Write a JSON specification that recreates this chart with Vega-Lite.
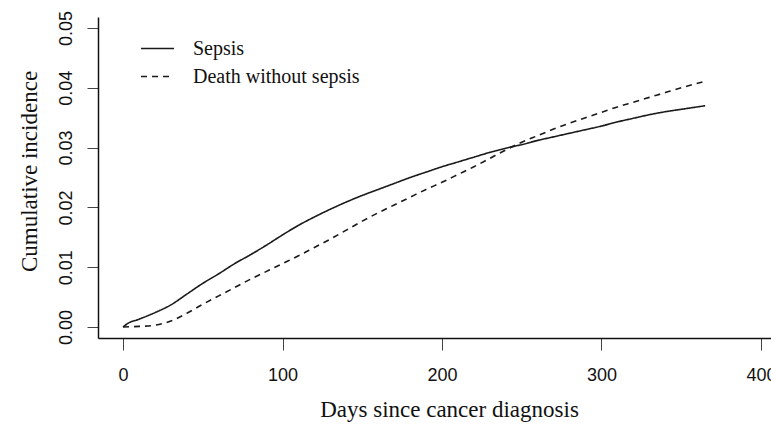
{
  "$schema": "https://vega.github.io/schema/vega-lite/v6.json",
  "autosize": {"type": "none"},
  "padding": {"left": 98, "top": 17, "right": 0, "bottom": 93},
  "width": 673,
  "height": 321,
  "background": "white",
  "config": {"view": {"stroke": null}},
  "data": {"values": [
    {"day": 0, "ci": 0.0, "event": "Sepsis"},
    {"day": 3, "ci": 0.0006, "event": "Sepsis"},
    {"day": 10, "ci": 0.0013, "event": "Sepsis"},
    {"day": 20, "ci": 0.0024, "event": "Sepsis"},
    {"day": 30, "ci": 0.0037, "event": "Sepsis"},
    {"day": 40, "ci": 0.0055, "event": "Sepsis"},
    {"day": 50, "ci": 0.0073, "event": "Sepsis"},
    {"day": 60, "ci": 0.0089, "event": "Sepsis"},
    {"day": 70, "ci": 0.0106, "event": "Sepsis"},
    {"day": 80, "ci": 0.0121, "event": "Sepsis"},
    {"day": 90, "ci": 0.0137, "event": "Sepsis"},
    {"day": 100, "ci": 0.0154, "event": "Sepsis"},
    {"day": 110, "ci": 0.0170, "event": "Sepsis"},
    {"day": 120, "ci": 0.0184, "event": "Sepsis"},
    {"day": 130, "ci": 0.0197, "event": "Sepsis"},
    {"day": 140, "ci": 0.0209, "event": "Sepsis"},
    {"day": 150, "ci": 0.0220, "event": "Sepsis"},
    {"day": 160, "ci": 0.0230, "event": "Sepsis"},
    {"day": 170, "ci": 0.0240, "event": "Sepsis"},
    {"day": 180, "ci": 0.0250, "event": "Sepsis"},
    {"day": 190, "ci": 0.0259, "event": "Sepsis"},
    {"day": 200, "ci": 0.0268, "event": "Sepsis"},
    {"day": 210, "ci": 0.0276, "event": "Sepsis"},
    {"day": 220, "ci": 0.0284, "event": "Sepsis"},
    {"day": 230, "ci": 0.0292, "event": "Sepsis"},
    {"day": 240, "ci": 0.0299, "event": "Sepsis"},
    {"day": 250, "ci": 0.0305, "event": "Sepsis"},
    {"day": 260, "ci": 0.0312, "event": "Sepsis"},
    {"day": 270, "ci": 0.0318, "event": "Sepsis"},
    {"day": 280, "ci": 0.0324, "event": "Sepsis"},
    {"day": 290, "ci": 0.0330, "event": "Sepsis"},
    {"day": 300, "ci": 0.0336, "event": "Sepsis"},
    {"day": 310, "ci": 0.0343, "event": "Sepsis"},
    {"day": 320, "ci": 0.0349, "event": "Sepsis"},
    {"day": 330, "ci": 0.0355, "event": "Sepsis"},
    {"day": 340, "ci": 0.0360, "event": "Sepsis"},
    {"day": 350, "ci": 0.0364, "event": "Sepsis"},
    {"day": 365, "ci": 0.0370, "event": "Sepsis"},
    {"day": 0, "ci": 0.0, "event": "Death without sepsis"},
    {"day": 10, "ci": 0.0001, "event": "Death without sepsis"},
    {"day": 20, "ci": 0.0003, "event": "Death without sepsis"},
    {"day": 30, "ci": 0.0010, "event": "Death without sepsis"},
    {"day": 40, "ci": 0.0023, "event": "Death without sepsis"},
    {"day": 50, "ci": 0.0038, "event": "Death without sepsis"},
    {"day": 60, "ci": 0.0052, "event": "Death without sepsis"},
    {"day": 70, "ci": 0.0066, "event": "Death without sepsis"},
    {"day": 80, "ci": 0.0080, "event": "Death without sepsis"},
    {"day": 90, "ci": 0.0093, "event": "Death without sepsis"},
    {"day": 100, "ci": 0.0106, "event": "Death without sepsis"},
    {"day": 110, "ci": 0.0119, "event": "Death without sepsis"},
    {"day": 120, "ci": 0.0133, "event": "Death without sepsis"},
    {"day": 130, "ci": 0.0147, "event": "Death without sepsis"},
    {"day": 140, "ci": 0.0162, "event": "Death without sepsis"},
    {"day": 150, "ci": 0.0177, "event": "Death without sepsis"},
    {"day": 160, "ci": 0.0191, "event": "Death without sepsis"},
    {"day": 170, "ci": 0.0204, "event": "Death without sepsis"},
    {"day": 180, "ci": 0.0217, "event": "Death without sepsis"},
    {"day": 190, "ci": 0.0230, "event": "Death without sepsis"},
    {"day": 200, "ci": 0.0242, "event": "Death without sepsis"},
    {"day": 210, "ci": 0.0255, "event": "Death without sepsis"},
    {"day": 220, "ci": 0.0268, "event": "Death without sepsis"},
    {"day": 230, "ci": 0.0282, "event": "Death without sepsis"},
    {"day": 240, "ci": 0.0296, "event": "Death without sepsis"},
    {"day": 250, "ci": 0.0309, "event": "Death without sepsis"},
    {"day": 260, "ci": 0.0320, "event": "Death without sepsis"},
    {"day": 270, "ci": 0.0331, "event": "Death without sepsis"},
    {"day": 280, "ci": 0.0341, "event": "Death without sepsis"},
    {"day": 290, "ci": 0.0350, "event": "Death without sepsis"},
    {"day": 300, "ci": 0.0359, "event": "Death without sepsis"},
    {"day": 310, "ci": 0.0368, "event": "Death without sepsis"},
    {"day": 320, "ci": 0.0376, "event": "Death without sepsis"},
    {"day": 330, "ci": 0.0384, "event": "Death without sepsis"},
    {"day": 340, "ci": 0.0392, "event": "Death without sepsis"},
    {"day": 350, "ci": 0.0400, "event": "Death without sepsis"},
    {"day": 365, "ci": 0.0411, "event": "Death without sepsis"}
  ]},
  "mark": {"type": "line", "color": "#1a1a1a", "strokeWidth": 1.6, "interpolate": "monotone"},
  "encoding": {
    "x": {
      "field": "day", "type": "quantitative",
      "scale": {"domain": [-15.7, 406.3], "nice": false, "zero": false},
      "axis": {
        "title": "Days since cancer diagnosis",
        "values": [0, 100, 200, 300, 400],
        "grid": false,
        "domainColor": "#111", "domainWidth": 1.5,
        "tickColor": "#444", "tickSize": 12, "tickWidth": 1,
        "labelFont": "Liberation Sans", "labelFontSize": 18, "labelColor": "#111",
        "labelPadding": 16, "labelFlush": false, "labelOverlap": false,
        "titleFont": "Liberation Serif", "titleFontSize": 23, "titleFontWeight": "normal", "titleColor": "#111",
        "titleX": 351, "titleY": 78, "titleBaseline": "alphabetic", "titleAlign": "center"
      }
    },
    "y": {
      "field": "ci", "type": "quantitative",
      "scale": {"domain": [-0.00184, 0.05184], "nice": false, "zero": false},
      "axis": {
        "title": "Cumulative incidence",
        "values": [0, 0.01, 0.02, 0.03, 0.04, 0.05],
        "format": ".2f",
        "grid": false,
        "domainColor": "#111", "domainWidth": 1.5,
        "tickColor": "#444", "tickSize": 11, "tickWidth": 1,
        "labelFont": "Liberation Sans", "labelFontSize": 18, "labelColor": "#111",
        "labelAngle": -90, "labelAlign": "center", "labelBaseline": "bottom",
        "labelPadding": 12, "labelFlush": false, "labelOverlap": false,
        "titleFont": "Liberation Serif", "titleFontSize": 23, "titleFontWeight": "normal", "titleColor": "#111",
        "titleAngle": 270, "titleX": -62, "titleY": 154, "titleBaseline": "alphabetic", "titleAlign": "center"
      }
    },
    "strokeDash": {
      "field": "event", "type": "nominal",
      "scale": {"domain": ["Sepsis", "Death without sepsis"], "range": [[1, 0], [6, 5]]},
      "legend": {
        "title": null,
        "orient": "none", "legendX": 42, "legendY": 14,
        "padding": 0,
        "symbolType": "stroke", "symbolSize": 1089, "symbolStrokeWidth": 1.5, "symbolStrokeColor": "#1a1a1a",
        "labelFont": "Liberation Serif", "labelFontSize": 20, "labelColor": "#111",
        "labelOffset": 18, "rowPadding": -9, "labelLimit": 400
      }
    },
    "detail": {"field": "event"}
  }
}
